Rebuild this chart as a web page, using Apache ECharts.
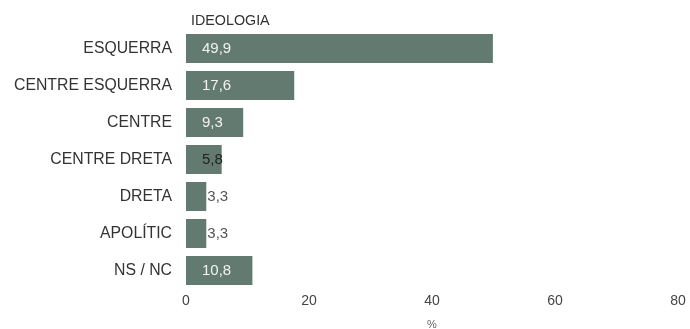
<!DOCTYPE html>
<html>
<head>
<meta charset="utf-8">
<script src="https://cdn.jsdelivr.net/npm/echarts@6/dist/echarts.min.js"></script>
<style>
  html, body { margin: 0; padding: 0; background: #fff; }
  #chart { width: 690px; height: 329px; }
</style>
</head>
<body>
<div id="chart"></div>
<script>
// Ideology breakdown (percent of respondents)
const categories = ['ESQUERRA', 'CENTRE ESQUERRA', 'CENTRE', 'CENTRE DRETA', 'DRETA', 'APOLÍTIC', 'NS / NC'];
const values = [49.9, 17.6, 9.3, 5.8, 3.3, 3.3, 10.8];
const xTicks = [0, 20, 40, 60, 80];

// Short bars carry their value just outside the bar end
const labelFor = (v) => {
  if (v < 5) return { position: 'right', distance: 1, color: '#555555' };
  if (v < 8) return { position: 'insideLeft', distance: 16, color: '#222222' };
  return { position: 'insideLeft', distance: 16, color: '#f2f2f2' };
};

const chart = echarts.init(document.getElementById('chart'));
chart.setOption({
  animation: false,
  textStyle: { fontFamily: 'Liberation Sans, Arial, sans-serif' },
  title: {
    text: 'IDEOLOGIA',
    left: 186,
    top: 9,
    textStyle: { fontSize: 14.3, fontWeight: 'normal', color: '#333' }
  },
  grid: { left: 186, right: 12, top: 30, bottom: 40, outerBoundsMode: 'none', containLabel: false },
  xAxis: {
    type: 'value',
    min: xTicks[0],
    max: xTicks[xTicks.length - 1],
    interval: 20,
    name: '%',
    nameLocation: 'middle',
    nameGap: 30,
    nameTextStyle: { fontSize: 11, color: '#666' },
    axisLine: { show: false },
    axisTick: { show: false },
    splitLine: { show: false },
    axisLabel: { fontSize: 14, color: '#444', margin: 5 }
  },
  yAxis: {
    type: 'category',
    data: categories,
    inverse: true,
    axisLine: { show: false },
    axisTick: { show: false },
    axisLabel: { fontSize: 15.8, color: '#333', margin: 14 }
  },
  series: [{
    type: 'bar',
    barWidth: 29,
    itemStyle: { color: '#627a70' },
    data: values.map((v) => ({ value: v, label: labelFor(v) })),
    label: {
      show: true,
      fontSize: 15,
      formatter: p => String(p.value).replace('.', ',')
    }
  }]
});
</script>
</body>
</html>
